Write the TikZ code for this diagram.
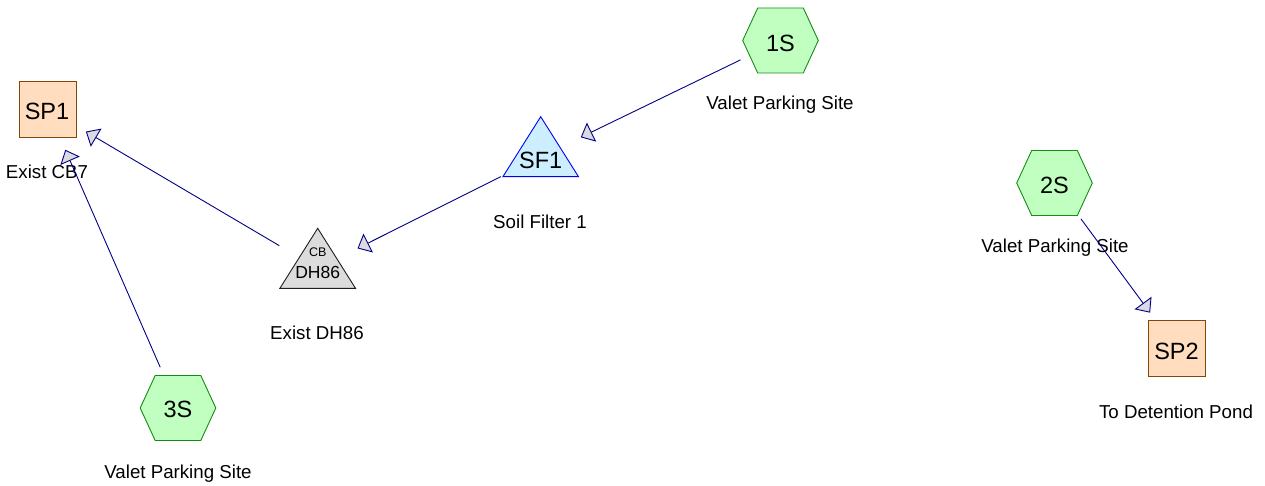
\documentclass[tikz,border=0pt]{standalone}
\usepackage{fontspec}
\setmainfont{Liberation Sans}
\usetikzlibrary{arrows.meta}
\definecolor{hexfill}{RGB}{192,255,192}
\definecolor{hexdraw}{RGB}{20,140,20}
\definecolor{boxfill}{RGB}{255,221,190}
\definecolor{boxdraw}{RGB}{130,70,10}
\definecolor{trifill}{RGB}{204,238,255}
\definecolor{tridraw}{RGB}{0,0,240}
\definecolor{cbfill}{RGB}{220,220,220}
\definecolor{cbdraw}{RGB}{30,30,30}
\definecolor{linkcol}{RGB}{0,0,135}
\definecolor{tipfill}{RGB}{218,218,224}
\newcommand\hexat[1]{\draw[hexshape] (#1) ++(-37.8,0) -- ++(15,-32.5) -- ++(45.6,0) -- ++(15,32.5) -- ++(-15,32.5) -- ++(-45.6,0) -- cycle;}
\newcommand\triat[1]{\draw[trishape] (#1) ++(0,-40) -- ++(37.8,60) -- ++(-75.6,0) -- cycle;}
\begin{document}
\begin{tikzpicture}[x=1pt,y=-1pt,
  hexshape/.style={fill=hexfill,draw=hexdraw,line width=0.9pt,line join=miter},
  trishape/.style={fill=trifill,draw=tridraw,line width=0.9pt},
  cbshape/.style={fill=cbfill,draw=cbdraw,line width=0.9pt},
  bigtext/.style={inner sep=0pt,font=\fontsize{23.5}{25}\selectfont},
  midtext/.style={inner sep=0pt,font=\fontsize{17.5}{19}\selectfont,anchor=base},
  smalltext/.style={inner sep=0pt,font=\fontsize{12.5}{14}\selectfont,anchor=base},
  boxnode/.style={draw=boxdraw,fill=boxfill,line width=0.9pt,minimum width=57pt,minimum height=56pt,inner sep=0pt},
  lbl/.style={inner sep=0pt,anchor=base,font=\fontsize{18.7}{20}\selectfont},
  link/.style={draw=linkcol,line width=0.9pt,shorten <=44.5pt,shorten >=44.5pt,
    -{Triangle[length=12pt,width=21pt,fill=tipfill]}}
]
\useasboundingbox (0,0) rectangle (1265,486);

% positions
\coordinate (c1S) at (780.5,40.5);
\coordinate (c2S) at (1054.5,183);
\coordinate (c3S) at (178,408);
\coordinate (cSF1) at (540.7,156.7);
\coordinate (cDH) at (317.7,268.3);

% shapes
\hexat{c1S}
\hexat{c2S}
\hexat{c3S}
\triat{cSF1}
\draw[cbshape] (cDH) ++(0,-40) -- ++(37.8,60) -- ++(-75.6,0) -- cycle;

\node[boxnode] (SP1) at (47.5,109) {};
\node[boxnode] (SP2) at (1176.5,348.5) {};

\node[bigtext,anchor=base] (tSP1) at (47,119.3) {SP1};
\node[bigtext,anchor=base] (tSP2) at (1176.5,359) {SP2};
\node[bigtext,anchor=base] (t1S) at (780.5,51.7) {1S};
\node[bigtext,anchor=base] (t2S) at (1054.5,193.3) {2S};
\node[bigtext,anchor=base] (t3S) at (178,417.7) {3S};
\node[bigtext,anchor=base] (tSF1) at (540.7,168.3) {SF1};
\node[smalltext] (tCB) at (317.7,256.7) {CB};
\node[midtext] (tDH) at (317.7,278.3) {DH86};

% labels
\node[lbl] (l1S) at (780,110) {Valet Parking Site};
\node[lbl] (l2S) at (1055,252.7) {Valet Parking Site};
\node[lbl] (l3S) at (178,478.3) {Valet Parking Site};
\node[lbl] (lSF1) at (540,228.3) {Soil Filter 1};
\node[lbl] (lDH) at (317,339) {Exist DH86};
\node[lbl] (lSP1) at (47,179) {Exist CB7};
\node[lbl] (lSP2) at (1176,418.3) {To Detention Pond};

% connectors
\draw[link] (c1S) -- (cSF1);
\draw[link] (cSF1) -- (cDH);
\draw[link] (cDH) -- (SP1.center);
\draw[link] (c3S) -- (SP1.center);
\draw[link] (c2S) -- (SP2.center);
\end{tikzpicture}
\end{document}
